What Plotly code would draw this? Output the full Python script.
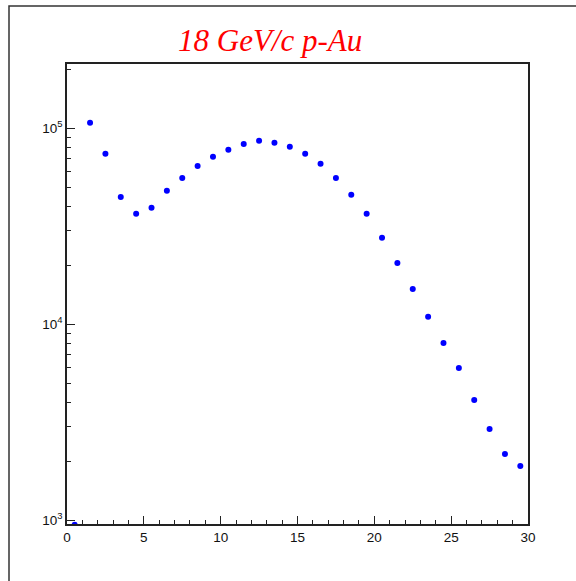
import numpy as np
import plotly.graph_objects as go

# Bin centres (1-unit bins from 0 to 30)
bin_centers = [0.5, 1.5, 2.5, 3.5, 4.5, 5.5, 6.5, 7.5, 8.5, 9.5,
               10.5, 11.5, 12.5, 13.5, 14.5, 15.5, 16.5, 17.5, 18.5, 19.5,
               20.5, 21.5, 22.5, 23.5, 24.5, 25.5, 26.5, 27.5, 28.5, 29.5]

# Bin contents
counts = [950, 106400, 73900, 44600, 36600, 39200, 47900, 55700, 64100, 71400,
          77500, 83100, 86100, 84100, 80300, 73900, 65800, 55700, 45700, 36600,
          27600, 20500, 15100, 10900, 8020, 5980, 4110, 2920, 2180, 1890]

title_text = "18 GeV/c p-Au"
x_range = [0, 30]
y_log_range = [2.981, 5.327]

decade_vals = [1e3, 1e4, 1e5]
decade_text = ["10<sup>3</sup>", "10<sup>4</sup>", "10<sup>5</sup>"]
minor_y = [m * d for d in [1e2, 1e3, 1e4, 1e5] for m in range(2, 10)]

W, H = 576, 581
ML, MR, MT, MB = 67, 48, 64, 57
pw = W - ML - MR
ph = H - MT - MB

fig = go.Figure()
fig.add_trace(go.Scatter(
    x=bin_centers, y=counts, mode="markers",
    marker=dict(color="#0000ff", size=6),
    showlegend=False,
))

axis_font = dict(family="Liberation Sans, Arial, sans-serif", size=13.5, color="#111")

fig.update_xaxes(
    range=x_range, showgrid=False, zeroline=False,
    showline=True, linecolor="#222", linewidth=1.5, mirror=True,
    ticks="inside", ticklen=8, tickwidth=1, tickcolor="#222",
    tickvals=[0, 5, 10, 15, 20, 25, 30],
    minor=dict(ticks="inside", ticklen=4, tickwidth=1, tickcolor="#222",
               tickvals=list(range(0, 31))),
    tickfont=axis_font,
)
fig.update_yaxes(
    type="log", range=y_log_range, showgrid=False, zeroline=False,
    showline=True, linecolor="#222", linewidth=1.5, mirror=True,
    ticks="inside", ticklen=8, tickwidth=1, tickcolor="#222",
    tickvals=decade_vals, ticktext=decade_text,
    minor=dict(ticks="inside", ticklen=4, tickwidth=1, tickcolor="#222",
               tickvals=minor_y),
    tickfont=axis_font,
)

# Outer canvas frame (left and top edges visible)
fx0 = (9 - ML) / pw
fy1 = (H - MB - 6) / ph
fig.add_shape(type="rect", xref="paper", yref="paper",
              x0=fx0, x1=1.5, y0=-0.5, y1=fy1,
              line=dict(color="#333", width=1.5), fillcolor="rgba(0,0,0,0)",
              layer="below")

fig.add_annotation(
    text="<i>" + title_text + "</i>", xref="paper", yref="paper",
    x=(270 - ML) / pw, y=(H - MB - 40) / ph, xanchor="center", yanchor="middle",
    showarrow=False,
    font=dict(family="Liberation Serif, Times New Roman, serif", size=31, color="#ff0000"),
)

fig.update_layout(
    width=W, height=H, autosize=False,
    margin=dict(l=ML, r=MR, t=MT, b=MB),
    paper_bgcolor="white", plot_bgcolor="white",
)

fig.write_html("out.html")
